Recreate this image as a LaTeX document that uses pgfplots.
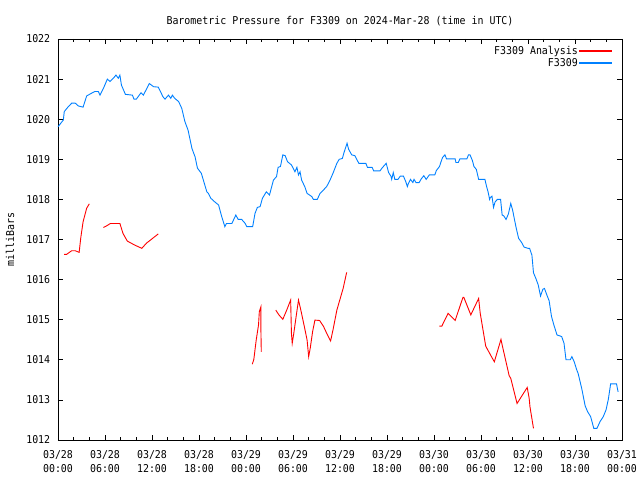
\documentclass[border=0pt]{standalone}
\usepackage{pgfplots}
\pgfplotsset{compat=1.18}
\usepackage{fontspec}
\setmainfont{DejaVu Sans Mono}[FakeStretch=0.92]
\definecolor{gblue}{RGB}{0,128,255}
\definecolor{gred}{RGB}{255,0,0}
\begin{document}
\fontsize{10.8bp}{12bp}\selectfont
\begin{tikzpicture}
\path[use as bounding box] (0,0) rectangle (640bp,480bp);
\begin{axis}[
  at={(58bp,40bp)}, anchor=south west,
  scale only axis, width=564bp, height=401bp,
  xmin=0, xmax=72, ymin=1012, ymax=1022,
  xtick={0,6,...,72},
  xticklabels={{03/28\\00:00},{03/28\\06:00},{03/28\\12:00},{03/28\\18:00},{03/29\\00:00},{03/29\\06:00},{03/29\\12:00},{03/29\\18:00},{03/30\\00:00},{03/30\\06:00},{03/30\\12:00},{03/30\\18:00},{03/31\\00:00}},
  minor x tick num=2,
  ytick={1012,1013,...,1022},
  /pgf/number format/assume math mode=true,
  /pgf/number format/1000 sep={},
  yticklabel style={/pgf/number format/1000 sep={}, xshift=-4bp},
  xticklabel style={align=center, yshift=-7bp, font=\fontsize{10.8bp}{14bp}\selectfont},
  tick align=inside,
  major tick length=5bp, minor tick length=3bp,
  every tick/.style={black, line width=0.8bp},
  axis line style={black, line width=0.8bp},
  title={Barometric Pressure for F3309 on 2024-Mar-28 (time in UTC)},
  title style={at={(axis description cs:0.5,1)}, anchor=center, yshift=12bp},
  ylabel={milliBars},
  ylabel style={at={(axis description cs:0,0.5)}, anchor=center, yshift=48bp},
  unbounded coords=jump,
  legend plot pos=right,
  legend cell align=right,
  legend style={draw=none, fill=none, at={(axis description cs:0.987,0.99)}, anchor=north east,
    nodes={inner sep=1.2bp}, row sep=0bp},
]
\addplot[color=gred, line width=0.9bp,
  legend image code/.code={\fill[gred] (0.5bp,0bp) rectangle (32bp,0.75bp);}] table {
x y
0.77 1016.63
1.1 1016.63
1.75 1016.72
2.2 1016.72
2.7 1016.68
2.9 1017.03
3.2 1017.44
3.66 1017.78
4.0 1017.89
4.5 nan
5.8 1017.30
6.2 1017.34
6.7 1017.40
7.9 1017.40
8.3 1017.15
8.85 1016.96
9.8 1016.86
10.7 1016.78
11.3 1016.91
11.96 1017.01
12.8 1017.14
13 nan
24.8 1013.89
25.0 1014.01
25.3 1014.49
25.6 1014.87
25.7 1015.20
25.9 1015.32
25.9 1014.78
25.95 1014.20
26 nan
27.8 1015.24
28.2 1015.12
28.7 1015.01
29.2 1015.24
29.7 1015.49
29.8 1014.66
29.9 1014.41
30.1 1014.66
30.4 1015.08
30.7 1015.49
31.0 1015.24
31.5 1014.78
31.8 1014.49
32.0 1014.08
32.2 1014.29
32.5 1014.70
32.8 1014.99
33.4 1014.98
33.9 1014.83
34.4 1014.62
34.8 1014.47
35.1 1014.74
35.6 1015.24
36.0 1015.51
36.4 1015.78
36.85 1016.18
37 nan
48.7 1014.84
49.0 1014.84
49.8 1015.16
50.7 1014.98
51.7 1015.56
51.8 1015.56
52.7 1015.12
53.7 1015.53
53.9 1015.16
54.6 1014.34
55.05 1014.18
55.7 1013.95
56.55 1014.51
56.7 1014.37
57.6 1013.60
57.8 1013.54
58.6 1012.91
59.9 1013.31
60.15 1013.04
60.25 1012.83
60.7 1012.29
};
\addlegendentry{F3309 Analysis}
\addplot[color=gblue, line width=0.9bp,
  legend image code/.code={\fill[gblue] (0.5bp,0bp) rectangle (32bp,0.75bp);}] table {
x y
0 1019.81
0.68 1019.98
0.8 1020.19
1.3 1020.31
1.75 1020.40
2.2 1020.40
2.6 1020.33
3.2 1020.30
3.66 1020.58
4.3 1020.65
4.7 1020.69
5.15 1020.69
5.36 1020.60
5.8 1020.77
6.3 1021.00
6.64 1020.94
7.06 1021.02
7.4 1021.10
7.7 1021.02
7.9 1021.10
8.1 1020.85
8.6 1020.62
9.5 1020.60
9.7 1020.50
10.0 1020.50
10.6 1020.66
10.9 1020.60
11.66 1020.89
12.2 1020.81
12.8 1020.80
13.4 1020.56
13.66 1020.50
14.1 1020.60
14.4 1020.52
14.6 1020.60
14.9 1020.52
15.4 1020.44
15.8 1020.27
16.2 1019.94
16.6 1019.73
17.1 1019.27
17.5 1019.06
17.8 1018.78
18.3 1018.65
18.8 1018.32
19.0 1018.19
19.2 1018.15
19.5 1018.03
20.0 1017.94
20.5 1017.86
20.9 1017.57
21.3 1017.32
21.5 1017.40
22.2 1017.40
22.7 1017.61
23.0 1017.50
23.45 1017.50
23.9 1017.40
24.1 1017.32
24.85 1017.32
25.15 1017.65
25.45 1017.80
25.8 1017.82
26.1 1018.03
26.6 1018.19
27.0 1018.11
27.5 1018.48
27.9 1018.57
28.1 1018.80
28.4 1018.82
28.7 1019.11
29.0 1019.09
29.3 1018.94
29.8 1018.86
30.25 1018.69
30.5 1018.80
30.7 1018.61
30.9 1018.69
31.1 1018.48
31.5 1018.32
31.8 1018.15
32.4 1018.07
32.6 1018.00
33.1 1018.00
33.45 1018.15
33.96 1018.25
34.3 1018.32
34.7 1018.47
35.1 1018.65
35.6 1018.90
35.9 1019.00
36.3 1019.02
36.5 1019.16
36.9 1019.40
37.1 1019.25
37.5 1019.11
37.9 1019.09
38.4 1018.90
39.3 1018.90
39.5 1018.80
40.1 1018.80
40.3 1018.71
41.1 1018.71
41.4 1018.79
41.9 1018.90
42.2 1018.67
42.5 1018.58
42.6 1018.50
42.8 1018.67
43.0 1018.50
43.4 1018.50
43.7 1018.58
44.1 1018.58
44.4 1018.44
44.6 1018.32
44.7 1018.38
45.0 1018.50
45.3 1018.42
45.45 1018.50
45.7 1018.42
46.1 1018.42
46.4 1018.52
46.7 1018.59
47.0 1018.50
47.4 1018.61
48.1 1018.61
48.3 1018.72
48.7 1018.82
48.9 1018.94
49.1 1019.05
49.4 1019.11
49.6 1019.01
50.7 1019.01
50.8 1018.92
51.1 1018.92
51.3 1019.01
52.2 1019.01
52.4 1019.11
52.6 1019.11
52.9 1018.97
53.1 1018.82
53.4 1018.75
53.7 1018.50
54.5 1018.50
54.7 1018.33
54.9 1018.19
55.1 1018.00
55.2 1018.05
55.4 1018.08
55.6 1017.80
55.8 1017.94
56.1 1018.00
56.5 1018.00
56.7 1017.61
56.9 1017.59
57.2 1017.50
57.5 1017.64
57.8 1017.90
58.05 1017.72
58.2 1017.57
58.5 1017.28
58.8 1017.03
59.2 1016.92
59.5 1016.81
60.0 1016.78
60.2 1016.78
60.5 1016.61
60.7 1016.17
61.0 1016.03
61.3 1015.87
61.6 1015.59
61.9 1015.76
62.1 1015.78
62.4 1015.62
62.7 1015.47
63.0 1015.08
63.3 1014.87
63.7 1014.62
64.3 1014.58
64.6 1014.41
64.85 1014.00
65.4 1014.00
65.6 1014.08
65.9 1013.95
66.2 1013.76
66.4 1013.66
66.85 1013.29
67.3 1012.85
67.6 1012.71
68.0 1012.58
68.4 1012.29
68.8 1012.29
69.2 1012.46
69.6 1012.58
69.96 1012.75
70.25 1013.01
70.55 1013.40
71.3 1013.40
71.5 1013.20
};
\addlegendentry{F3309}
\end{axis}
\end{tikzpicture}
\end{document}
